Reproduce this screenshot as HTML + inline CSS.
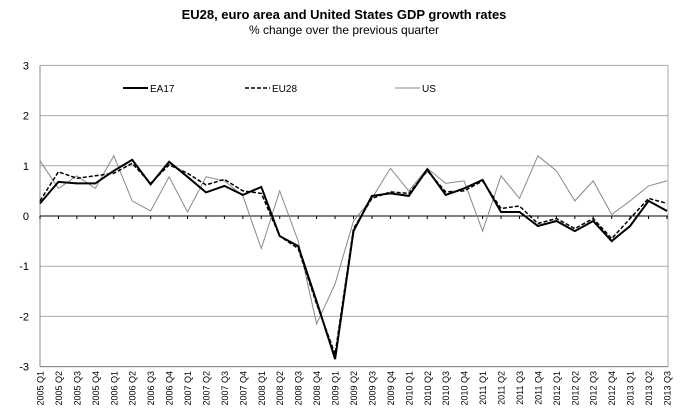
<!DOCTYPE html>
<html><head><meta charset="utf-8"><style>
body{margin:0;background:#fff;width:688px;height:411px;overflow:hidden;font-family:"Liberation Sans",Arial,sans-serif}
</style></head><body>
<svg id="s" width="688" height="411" xmlns="http://www.w3.org/2000/svg" font-family="Liberation Sans, Arial, sans-serif">
<text x="344" y="19" text-anchor="middle" font-size="13" font-weight="bold">EU28, euro area and United States GDP growth rates</text>
<text x="344" y="34" text-anchor="middle" font-size="12">% change over the previous quarter</text>
<g id="g"></g>
</svg>
<script>
const X0=40,X1=667,R=668,yz=216,u=50.2;
const sx=i=>X0+i*(X1-X0)/34, sy=v=>yz-v*u;
const ea=[0.25,0.68,0.65,0.65,0.9,1.12,0.63,1.08,0.78,0.47,0.6,0.42,0.58,-0.4,-0.6,-1.7,-2.85,-0.3,0.4,0.45,0.4,0.93,0.42,0.55,0.72,0.08,0.08,-0.2,-0.1,-0.3,-0.1,-0.5,-0.2,0.3,0.1];
const eu=[0.3,0.88,0.75,0.8,0.85,1.05,0.65,1.02,0.85,0.62,0.73,0.5,0.45,-0.4,-0.65,-1.75,-2.75,-0.25,0.35,0.48,0.45,0.9,0.48,0.5,0.7,0.15,0.2,-0.15,-0.05,-0.25,-0.05,-0.45,-0.05,0.35,0.25];
const us=[1.1,0.55,0.8,0.55,1.2,0.3,0.1,0.78,0.08,0.78,0.7,0.4,-0.65,0.5,-0.5,-2.15,-1.35,-0.1,0.35,0.95,0.5,0.95,0.65,0.7,-0.3,0.8,0.35,1.2,0.9,0.3,0.7,0.03,0.3,0.6,0.7];
let h='';
for(let v=-3;v<=3;v++){ if(v!==0) h+=`<line x1="${X0}" x2="${R}" y1="${sy(v)}" y2="${sy(v)}" stroke="#aaa" stroke-width="1"/>`;
 h+=`<text x="29" y="${sy(v)+4}" text-anchor="end" font-size="11">${v}</text>`;}
h+=`<line x1="${R}" x2="${R}" y1="${sy(3)}" y2="${sy(-3)}" stroke="#aaa"/>`;
h+=`<line x1="${X0}" x2="${X0}" y1="${sy(3)}" y2="${sy(-3)}" stroke="#888"/>`;
h+=`<line x1="${X0}" x2="${R}" y1="${sy(-3)}" y2="${sy(-3)}" stroke="#888"/>`;
h+=`<line x1="${X0}" x2="${R}" y1="${yz}" y2="${yz}" stroke="#000"/>`;
for(let i=0;i<35;i++){const x=sx(i);h+=`<line x1="${x}" x2="${x}" y1="${yz}" y2="${yz+3}" stroke="#000"/>`;
 const lab=(2005+Math.floor(i/4))+'Q'+(i%4+1);
 h+=`<text transform="translate(${x+3.5},371) rotate(-90)" text-anchor="end" font-size="9">${lab.replace('Q',' Q')}</text>`;}
const pl=(d,st)=>`<polyline fill="none" points="${d.map((v,i)=>sx(i).toFixed(1)+','+sy(v).toFixed(1)).join(' ')}" ${st}/>`;
h+=pl(us,'stroke="#888" stroke-width="1"');
h+=pl(eu,'stroke="#000" stroke-width="1.5" stroke-dasharray="4,2"');
h+=pl(ea,'stroke="#000" stroke-width="2"');
h+=`<line x1="123" x2="148" y1="88" y2="88" stroke="#000" stroke-width="2"/><text x="150" y="92" font-size="10">EA17</text>`;
h+=`<line x1="245" x2="270" y1="88" y2="88" stroke="#000" stroke-width="1.5" stroke-dasharray="4,2"/><text x="272" y="92" font-size="10">EU28</text>`;
h+=`<line x1="395" x2="420" y1="88" y2="88" stroke="#888" stroke-width="1"/><text x="422" y="92" font-size="10">US</text>`;
document.getElementById('g').innerHTML=h;
</script>
</body></html>
